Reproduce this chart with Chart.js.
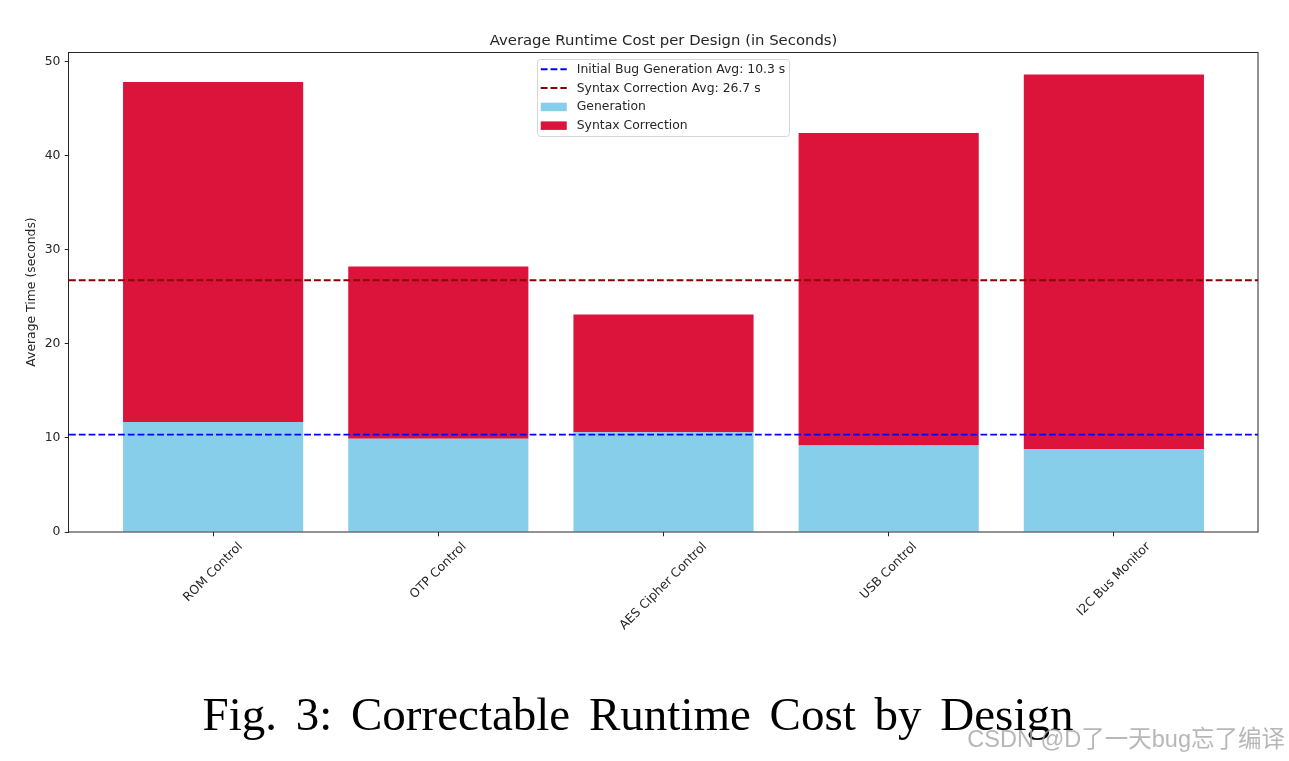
<!DOCTYPE html>
<html>
<head>
<meta charset="utf-8">
<script src="https://cdn.jsdelivr.net/npm/chart.js@4.4.1/dist/chart.umd.min.js"></script>
<style>
  html, body { margin: 0; padding: 0; background: #fff; }
  #wrap { position: relative; width: 1289px; height: 761px; overflow: hidden; }
  #chartBox { position: absolute; left: 0; top: 0; width: 1289px; height: 761px; }
  #caption {
    position: absolute; left: 0; top: 690.6px; width: 1276px;
    text-align: center; white-space: nowrap; word-spacing: 7px;
    font-family: "Liberation Serif", "Times New Roman", serif;
    font-size: 47px; line-height: 47px; color: #000;
  }
  #watermark {
    position: absolute; right: 4px; top: 728px; white-space: nowrap;
    font-family: "Liberation Sans", "Noto Sans CJK SC", sans-serif;
    font-size: 23.5px; line-height: 23px; color: rgba(165,165,165,0.8);
  }
</style>
</head>
<body>
<div id="wrap">
  <div id="chartBox"><canvas id="runtimeChart"></canvas></div>
  <div id="caption">Fig. 3: Correctable Runtime Cost by Design</div>
  <div id="watermark">CSDN @D了一天bug忘了编译</div>
</div>
<script>
// ── data ─────────────────────────────────────────
const designs = ['ROM Control', 'OTP Control', 'AES Cipher Control', 'USB Control', 'I2C Bus Monitor'];
const generationTime = [11.7, 9.9, 10.6, 9.2, 8.8];
const syntaxCorrectionTime = [36.1, 18.3, 12.5, 33.2, 39.8];
const avgValues = [10.35, 26.75];
const avgLabels = ['Initial Bug Generation Avg: 10.3 s', 'Syntax Correction Avg: 26.7 s'];
const yTicks = [0, 10, 20, 30, 40, 50];
const xRange = [-0.64, 4.64];
const yRange = [0, 51];

const INK = '#262626';
const BASE_FONT = 'DejaVu Sans';
const FS = 12.4;

const colors = {
  generation: '#87CEEB',
  syntax: '#DC143C',
  avgGen: '#0000FF',
  avgSyn: '#8B0000',
};
const DASH = [6.8, 3];

function avgLine(i, color) {
  return {
    type: 'line',
    label: avgLabels[i],
    data: [{ x: xRange[0], y: avgValues[i] }, { x: xRange[1], y: avgValues[i] }],
    borderColor: color,
    borderWidth: 1.9,
    borderDash: DASH,
    pointRadius: 0,
    fill: false,
    stack: 'avg' + i,
  };
}

// 제목, 범례, x 라벨, 테두리
const decorPlugin = {
  id: 'decor',
  afterDraw(chart) {
    const { ctx, chartArea: a, scales: { x } } = chart;
    ctx.save();

    // frame
    ctx.strokeStyle = INK;
    ctx.lineWidth = 1;
    ctx.strokeRect(Math.floor(a.left) - 0.5, Math.floor(a.top) + 0.5,
                   Math.round(a.right - a.left) + 0.5, Math.round(a.bottom - a.top) - 0.5);

    // title
    ctx.fillStyle = INK;
    ctx.font = `14.85px "${BASE_FONT}"`;
    ctx.textAlign = 'center';
    ctx.textBaseline = 'alphabetic';
    ctx.fillText('Average Runtime Cost per Design (in Seconds)', (a.left + a.right) / 2, a.top - 7);

    // rotated x labels
    ctx.font = `${FS}px "${BASE_FONT}"`;
    designs.forEach((name, i) => {
      const px = x.getPixelForValue(i);
      const w = ctx.measureText(name).width;
      const cy = a.bottom + 12.7 + w * 0.3536;
      ctx.save();
      ctx.translate(px, cy);
      ctx.rotate(-Math.PI / 4);
      ctx.textAlign = 'center';
      ctx.textBaseline = 'middle';
      ctx.fillText(name, 0, 0);
      ctx.restore();
    });

    // legend (upper center)
    const ds = chart.data.datasets;
    ctx.font = `${FS}px "${BASE_FONT}"`;
    const maxW = Math.max(...ds.map(d => ctx.measureText(d.label).width));
    const boxW = 39.5 + maxW + 4.5;
    const boxH = 77.4;
    const bx = (a.left + a.right) / 2 - boxW / 2;
    const by = a.top + 7.3;
    ctx.fillStyle = 'rgba(255,255,255,0.8)';
    ctx.strokeStyle = '#d6d6d6';
    ctx.lineWidth = 1;
    ctx.beginPath();
    ctx.roundRect(Math.round(bx) + 0.5, Math.round(by) + 0.5, Math.round(boxW), Math.round(boxH), 3);
    ctx.fill();
    ctx.stroke();

    ds.forEach((d, i) => {
      const cy = by + 10 + i * 18.7;
      const hx = bx + 3.5;
      if (d.type === 'line') {
        ctx.strokeStyle = d.borderColor;
        ctx.lineWidth = d.borderWidth;
        ctx.setLineDash(d.borderDash);
        ctx.beginPath();
        ctx.moveTo(hx, cy);
        ctx.lineTo(hx + 26, cy);
        ctx.stroke();
        ctx.setLineDash([]);
      } else {
        ctx.fillStyle = d.backgroundColor;
        ctx.fillRect(hx, cy - 4, 26, 8.5);
      }
      ctx.fillStyle = INK;
      ctx.textAlign = 'left';
      ctx.textBaseline = 'middle';
      ctx.fillText(d.label, bx + 39.5, cy + 0.5);
    });

    ctx.restore();
  },
};

const chart = new Chart(document.getElementById('runtimeChart'), {
  type: 'bar',
  data: {
    datasets: [
      avgLine(0, colors.avgGen),
      avgLine(1, colors.avgSyn),
      {
        label: 'Generation',
        data: generationTime.map((v, i) => ({ x: i, y: v })),
        backgroundColor: colors.generation,
        borderWidth: 0,
      },
      {
        label: 'Syntax Correction',
        data: syntaxCorrectionTime.map((v, i) => ({ x: i, y: v })),
        backgroundColor: colors.syntax,
        borderWidth: 0,
      },
    ],
  },
  options: {
    responsive: true,
    maintainAspectRatio: false,
    animation: false,
    events: [],
    categoryPercentage: 1.0,
    barPercentage: 0.8,
    layout: { padding: { top: 52, right: 31, bottom: 0, left: 0 } },
    plugins: {
      legend: { display: false },
      title: { display: false },
      tooltip: { enabled: false },
    },
    scales: {
      x: {
        type: 'linear',
        stacked: true,
        offset: false,
        min: xRange[0],
        max: xRange[1],
        border: { display: false },
        grid: { offset: false, drawOnChartArea: false, drawTicks: true, tickLength: 4.3, color: INK, tickWidth: 1 },
        ticks: { display: false },
        afterBuildTicks: s => { s.ticks = designs.map((_, i) => ({ value: i })); },
        afterFit: s => { s.height = 229; },
      },
      y: {
        stacked: true,
        min: yRange[0],
        max: yRange[1],
        border: { display: false },
        grid: { drawOnChartArea: false, drawTicks: true, tickLength: 4.3, color: INK, tickWidth: 1 },
        ticks: { color: INK, padding: 4.3, font: { family: BASE_FONT, size: FS } },
        afterBuildTicks: s => { s.ticks = yTicks.map(v => ({ value: v })); },
        afterFit: s => { s.width = 69; },
        title: {
          display: true,
          text: 'Average Time (seconds)',
          color: INK,
          font: { family: BASE_FONT, size: FS },
          padding: { top: 24.6, bottom: 0 },
        },
      },
    },
  },
  plugins: [decorPlugin],
});
</script>
</body>
</html>
